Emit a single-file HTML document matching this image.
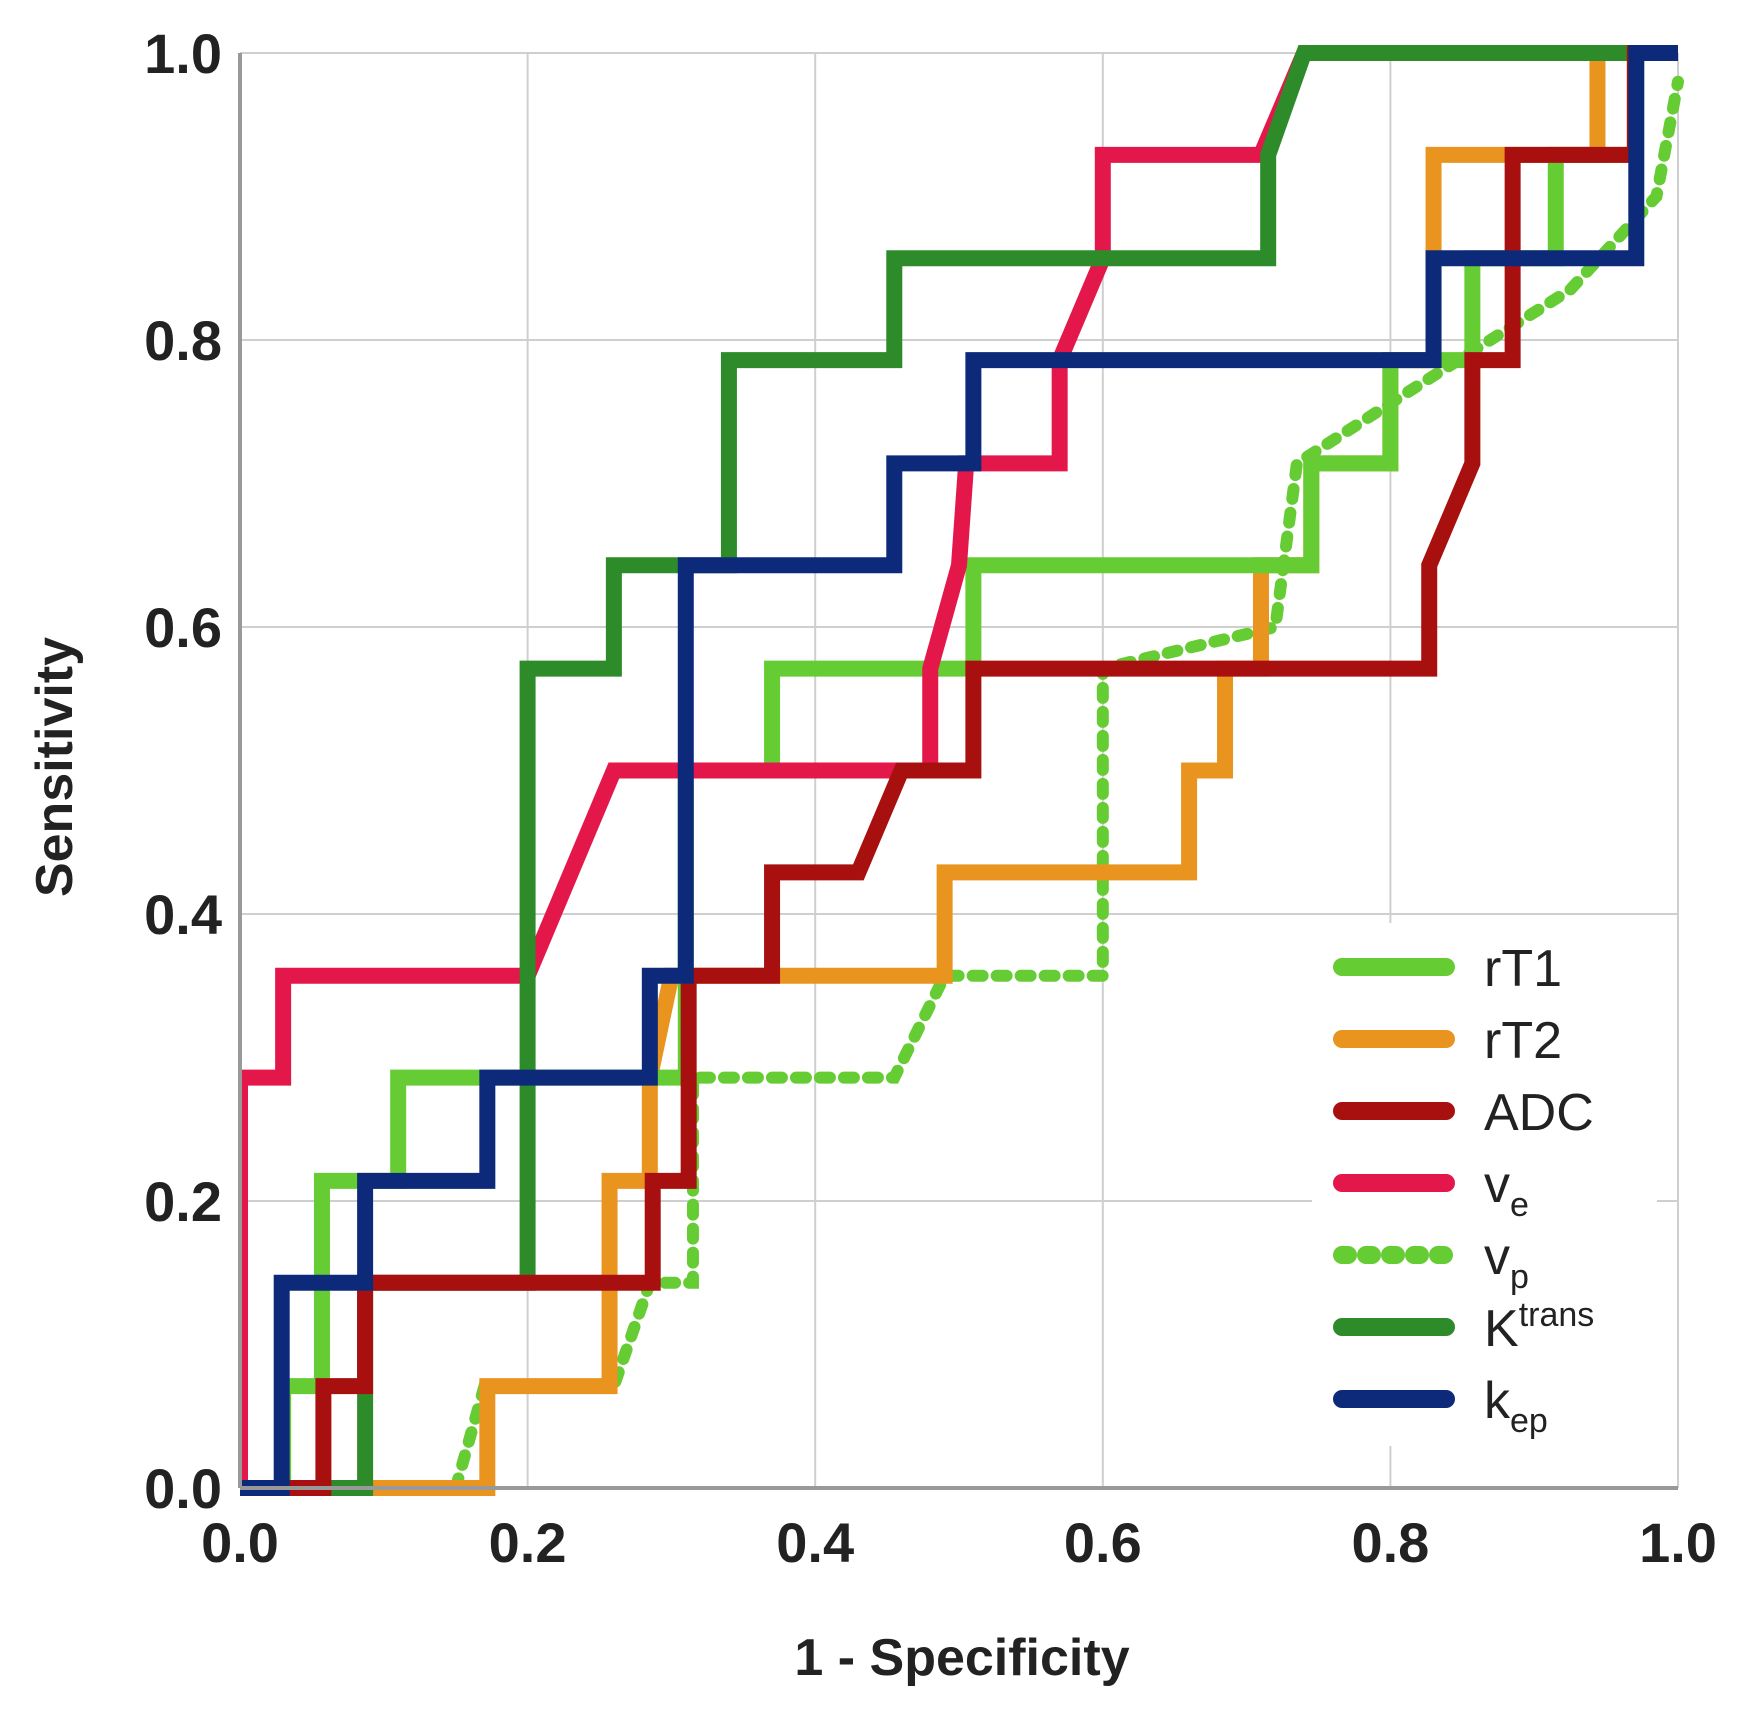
<!DOCTYPE html>
<html><head><meta charset="utf-8"><style>
html,body{margin:0;padding:0;background:#fff;}
svg{display:block;font-family:"Liberation Sans",Arial,sans-serif;}
</style></head><body>
<svg id="chart" width="1742" height="1718" viewBox="0 0 1742 1718">
<defs><clipPath id="plotclip"><rect x="240" y="45" width="1446" height="1451"/></clipPath></defs>
<g id="grid"></g>
<g id="series" clip-path="url(#plotclip)"></g>
<g id="axes"></g>
<g id="legend"></g>
<text x="962" y="1675" text-anchor="middle" font-size="52" font-weight="bold" fill="#222">1 - Specificity</text>
<text transform="translate(72,767) rotate(-90)" text-anchor="middle" font-size="52" font-weight="bold" fill="#222">Sensitivity</text>
</svg>
<script>
const ticks = [0, 0.2, 0.4, 0.6, 0.8, 1.0];
const tickLabels = ["0.0","0.2","0.4","0.6","0.8","1.0"];
const seriesNames = ["rT1","rT2","ADC","ve","vp","Ktrans","kep"];
const rT1X = [0,0.03,0.03,0.057,0.057,0.11,0.11,0.31,0.31,0.37,0.37,0.51,0.51,0.745,0.745,0.80,0.80,0.857,0.857,0.915,0.915,0.97,0.97,1.0];
const rT1Y = [0,0,0.071,0.071,0.214,0.214,0.286,0.286,0.5,0.5,0.571,0.571,0.643,0.643,0.714,0.714,0.786,0.786,0.857,0.857,0.929,0.929,1.0,1.0];
const rT2X = [0,0.172,0.172,0.257,0.257,0.285,0.285,0.3,0.49,0.49,0.66,0.66,0.685,0.685,0.71,0.71,0.745,0.745,0.80,0.80,0.83,0.83,0.944,0.944,1.0];
const rT2Y = [0,0,0.071,0.071,0.214,0.214,0.286,0.357,0.357,0.429,0.429,0.5,0.5,0.571,0.571,0.643,0.643,0.714,0.714,0.786,0.786,0.929,0.929,1.0,1.0];
const adcX = [0,0.058,0.058,0.087,0.087,0.287,0.287,0.312,0.312,0.37,0.37,0.43,0.46,0.51,0.51,0.827,0.827,0.857,0.857,0.885,0.885,0.97,0.97,1.0];
const adcY = [0,0,0.071,0.071,0.143,0.143,0.214,0.214,0.357,0.357,0.429,0.429,0.5,0.5,0.571,0.571,0.643,0.714,0.786,0.786,0.929,0.929,1.0,1.0];
const veX = [0,0,0.03,0.03,0.2,0.26,0.48,0.48,0.5,0.505,0.57,0.57,0.6,0.6,0.71,0.74,1.0];
const veY = [0,0.286,0.286,0.357,0.357,0.5,0.5,0.571,0.643,0.714,0.714,0.786,0.857,0.929,0.929,1.0,1.0];
const vpX = [0.15,0.17,0.26,0.285,0.315,0.315,0.455,0.49,0.6,0.6,0.72,0.735,0.822,0.925,0.985,1.0];
const vpY = [0,0.071,0.071,0.143,0.143,0.286,0.286,0.357,0.357,0.571,0.6,0.714,0.77,0.835,0.9,0.98];
const ktX = [0,0.087,0.087,0.2,0.2,0.26,0.26,0.34,0.34,0.455,0.455,0.715,0.715,0.74,1.0];
const ktY = [0,0,0.143,0.143,0.571,0.571,0.643,0.643,0.786,0.786,0.857,0.857,0.929,1.0,1.0];
const kepX = [0,0.029,0.029,0.087,0.087,0.172,0.172,0.285,0.285,0.31,0.31,0.455,0.455,0.51,0.51,0.83,0.83,0.971,0.971,1.0];
const kepY = [0,0,0.143,0.143,0.214,0.214,0.286,0.286,0.357,0.357,0.643,0.643,0.714,0.714,0.786,0.786,0.857,0.857,1.0,1.0];

const NS="http://www.w3.org/2000/svg";
const L=240,R=1678,T=53,B=1488;
const sx=v=>L+v*(R-L), sy=v=>B-v*(B-T);
function mk(tag,attrs,parent){const e=document.createElementNS(NS,tag);for(const k in attrs)e.setAttribute(k,attrs[k]);parent.appendChild(e);return e;}
const grid=document.getElementById('grid'),axes=document.getElementById('axes'),ser=document.getElementById('series'),leg=document.getElementById('legend');
ticks.forEach((t,i)=>{
  const gv=mk('line',{x1:sx(t),x2:sx(t),y1:T,y2:B,stroke:'#cfcfcf','stroke-width':2},grid);
  
  
  const gh=mk('line',{x1:L,x2:R,y1:sy(t),y2:sy(t),stroke:'#cfcfcf','stroke-width':2},grid);
  
  
  const xt=mk('text',{x:sx(t),y:1562,'text-anchor':'middle','font-size':56,'font-weight':'bold',fill:'#222'},axes);
  xt.textContent=tickLabels[i];
  
  
  const yt=mk('text',{x:222,y:sy(t)+20,'text-anchor':'end','font-size':56,'font-weight':'bold',fill:'#222'},axes);
  yt.textContent=tickLabels[i];
  
  
});
const ax1=mk('line',{x1:L,x2:L,y1:T,y2:B,stroke:'#999','stroke-width':4},axes);


const ax2=mk('line',{x1:L,x2:R,y1:B,y2:B,stroke:'#999','stroke-width':4},axes);



const defs=[
 {n:'vp',x:vpX,y:vpY,c:'#66cc33',d:'10 14'},
 {n:'rT2',x:rT2X,y:rT2Y,c:'#ea9420',d:null},
 {n:'rT1',x:rT1X,y:rT1Y,c:'#66cc33',d:null},
 {n:'ve',x:veX,y:veY,c:'#e3174a',d:null},
 {n:'Ktrans',x:ktX,y:ktY,c:'#2e8b2a',d:null},
 {n:'ADC',x:adcX,y:adcY,c:'#a8100f',d:null},
 {n:'kep',x:kepX,y:kepY,c:'#0d2a7a',d:null}
];
defs.forEach(s=>{
  const pts=s.x.map((v,i)=>sx(v)+','+sy(s.y[i])).join(' ');
  const a={points:pts,fill:'none',stroke:s.c,'stroke-width':16,'stroke-linejoin':'miter'};
  if(s.d){a['stroke-dasharray']=s.d;a['stroke-linecap']='round';a['stroke-width']=12;}
  const p=mk('polyline',a,ser);
  
  
});
const bg=mk('rect',{x:1312,y:923,width:345,height:523,fill:'#fff'},leg);


const legItems=[['rT1','#66cc33',null,''],['rT2','#ea9420',null,''],['ADC','#a8100f',null,''],['v','#e3174a',null,'e'],['v','#66cc33','6 18','p'],['K','#2e8b2a',null,'trans'],['k','#0d2a7a',null,'ep']];
legItems.forEach((it,i)=>{
  const y=967+i*72;
  const a={x1:1342,x2:1446,y1:y,y2:y,stroke:it[1],'stroke-width':18,'stroke-linecap':'round'};
  if(it[2])a['stroke-dasharray']=it[2];
  const ln=mk('line',a,leg);
  
  
  const tx=mk('text',{x:1484,y:y+19,'font-size':52,fill:'#222'},leg);
  
  
  const m=document.createElementNS(NS,'tspan');m.textContent=it[0];tx.appendChild(m);
  if(it[3]){const s=document.createElementNS(NS,'tspan');s.textContent=it[3];s.setAttribute('font-size','34');
    s.setAttribute('dy',it[3]==='trans'?'-20':'14');tx.appendChild(s);}
});
</script>
</body></html>
